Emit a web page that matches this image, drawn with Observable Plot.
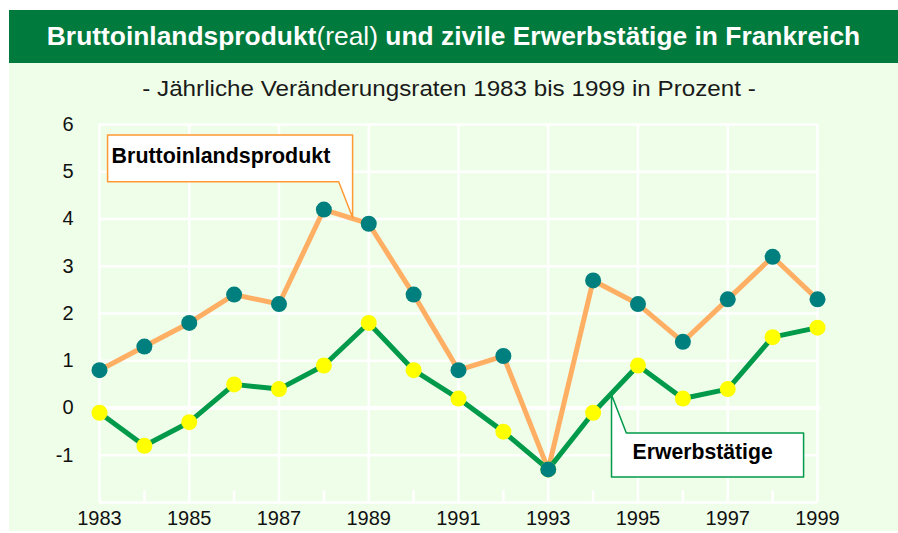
<!DOCTYPE html>
<html>
<head>
<meta charset="utf-8">
<script src="https://cdn.jsdelivr.net/npm/d3@7"></script>
<script src="https://cdn.jsdelivr.net/npm/@observablehq/plot@0.6"></script>
<style>
  html, body { margin: 0; padding: 0; background: #ffffff; width: 898px; height: 533px; overflow: hidden; font-family: "Liberation Sans", Arial, sans-serif; }
  #header { position: absolute; left: 9px; top: 10px; width: 889px; height: 53px; background: #007A3D; }
  #title { position: absolute; left: 9px; top: 10px; width: 889px; height: 53px; color: #fff; text-align: center; line-height: 53px; font-size: 25px; font-weight: bold; white-space: nowrap; transform: scaleX(1.055); transform-origin: 50% 50%; }
  #title .n { font-weight: normal; }
  #panel { position: absolute; left: 9px; top: 63px; width: 889px; height: 468px; background: #EEFEE8; }
  #subtitle { position: absolute; left: 9px; top: 76px; width: 880px; text-align: center; font-size: 22px; color: #1a1a1a; white-space: nowrap; transform: scaleX(1.1); transform-origin: 50% 50%; }
  #chart { position: absolute; left: 0; top: 110px; }
</style>
</head>
<body>
<div id="header"></div>
<div id="title">Bruttoinlandsprodukt<span class="n">(real)</span> und zivile Erwerbstätige in Frankreich</div>
<div id="panel"></div>
<div id="subtitle">- Jährliche Veränderungsraten 1983 bis 1999 in Prozent -</div>
<div id="chart"></div>
<script>
// Data
const years = [1983,1984,1985,1986,1987,1988,1989,1990,1991,1992,1993,1994,1995,1996,1997,1998,1999];
const bip = [0.8,1.3,1.8,2.4,2.2,4.2,3.9,2.4,0.8,1.1,-1.3,2.7,2.2,1.4,2.3,3.2,2.3];
const erwerb = [-0.1,-0.8,-0.3,0.5,0.4,0.9,1.8,0.8,0.2,-0.5,-1.3,-0.1,0.9,0.2,0.4,1.5,1.7];
const yTickValues = [-1,0,1,2,3,4,5,6];
const xTickValues = [1983,1985,1987,1989,1991,1993,1995,1997,1999];
const minorYears = [1984,1986,1988,1990,1992,1994,1996,1998];
const labelBip = "Bruttoinlandsprodukt";
const labelErwerb = "Erwerbstätige";

// Callout shapes in data coordinates [year, value]
const calloutBip = [[1983.18,5.78],[1988.64,5.78],[1988.64,4.03],[1988.33,4.79],[1983.18,4.79],[1983.18,5.78]];
const calloutErwerb = [[1994.41,0.28],[1994.74,-0.53],[1998.69,-0.53],[1998.69,-1.46],[1994.41,-1.46],[1994.41,0.28]];

const bipData = years.map((y, i) => ({year: y, value: bip[i]}));
const erwData = years.map((y, i) => ({year: y, value: erwerb[i]}));

const cOrange = "#FFAF64", cGreen = "#009A4A", cTeal = "#007F7F", cYellow = "#FFFF00";

const chart = Plot.plot({
  width: 898,
  height: 422,
  marginLeft: 99,
  marginRight: 81,
  marginTop: 14,
  marginBottom: 30,
  style: { background: "transparent", fontFamily: "Liberation Sans, Arial, sans-serif", color: "#111" },
  x: { domain: [1983, 1999], label: null },
  y: { domain: [-2, 6], label: null },
  marks: [
    Plot.ruleY([-1,1,2,3,4,5,6,-2], { stroke: "white", strokeWidth: 2.5 }),
    Plot.ruleX(xTickValues, { stroke: "white", strokeWidth: 2.5 }),
    Plot.ruleX(minorYears, { y1: -2, y2: -1.75, stroke: "white", strokeWidth: 2.5 }),
    Plot.ruleY([0], { x1: 1983, x2: 1999.07, stroke: "white", strokeWidth: 4 }),
    Plot.axisY({ ticks: yTickValues, tickSize: 0, tickPadding: 26, fontSize: 20, label: null, tickFormat: d => String(d) }),
    Plot.axisX({ ticks: xTickValues, tickSize: 0, tickPadding: 8, fontSize: 20, label: null, tickFormat: d => String(d) }),
    Plot.line(bipData, { x: "year", y: "value", stroke: cOrange, strokeWidth: 5 }),
    Plot.line(erwData, { x: "year", y: "value", stroke: cGreen, strokeWidth: 5 }),
    Plot.dot(erwData, { x: "year", y: "value", r: 8, fill: cYellow }),
    Plot.dot(bipData, { x: "year", y: "value", r: 8, fill: cTeal }),
    Plot.line(calloutBip, { x: d => d[0], y: d => d[1], fill: "white", stroke: "#FF9933", strokeWidth: 1.5 }),
    Plot.line(calloutErwerb, { x: d => d[0], y: d => d[1], fill: "white", stroke: cGreen, strokeWidth: 1.5 }),
    Plot.text([labelBip], { x: 1983.27, y: 5.34, text: d => d, textAnchor: "start", fontSize: 21.4, fontWeight: "bold", fill: "#000" }),
    Plot.text([labelErwerb], { x: 1994.88, y: -0.94, text: d => d, textAnchor: "start", fontSize: 21.2, fontWeight: "bold", fill: "#000" })
  ]
});
document.getElementById("chart").appendChild(chart);
</script>
</body>
</html>
